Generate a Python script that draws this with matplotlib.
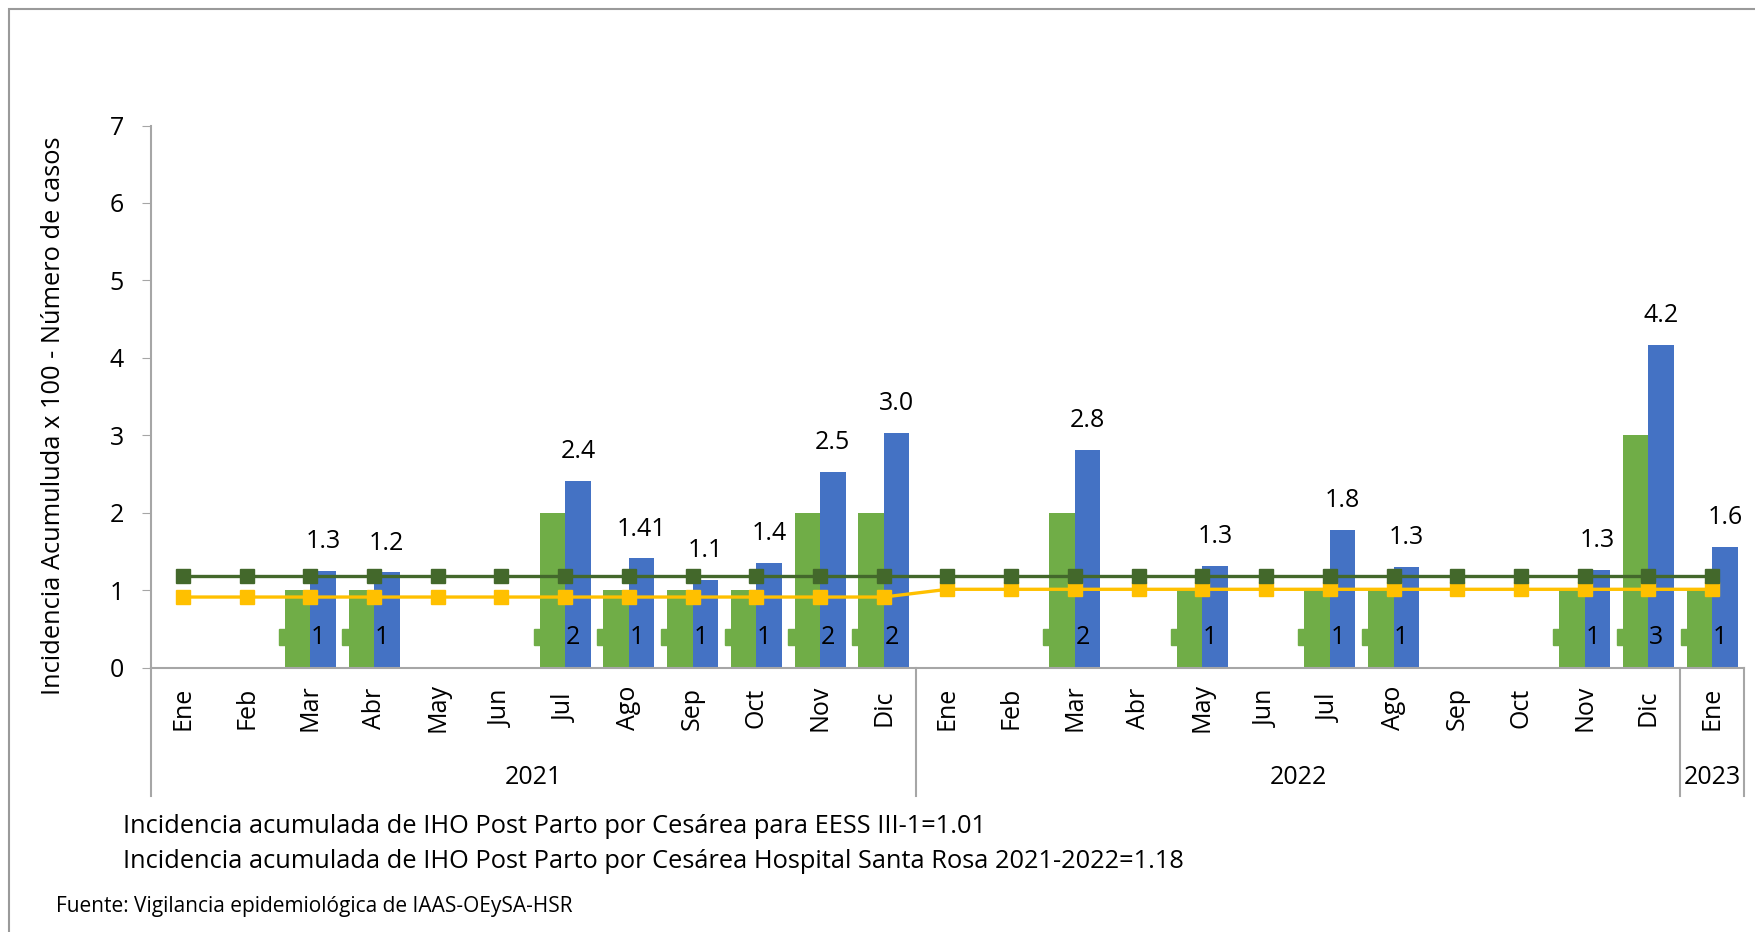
import numpy as np
import matplotlib
matplotlib.use("Agg")
import matplotlib.pyplot as plt
from matplotlib.patches import Rectangle
from matplotlib.transforms import blended_transform_factory

plt.rcParams['font.family'] = ['Open Sans', 'DejaVu Sans']

# data
months = ['Ene', 'Feb', 'Mar', 'Abr', 'May', 'Jun', 'Jul', 'Ago', 'Sep', 'Oct', 'Nov', 'Dic',
          'Ene', 'Feb', 'Mar', 'Abr', 'May', 'Jun', 'Jul', 'Ago', 'Sep', 'Oct', 'Nov', 'Dic',
          'Ene']
years = ['2021', '2022', '2023']
year_len = [12, 12, 1]
casos = [0, 0, 1, 1, 0, 0, 2, 1, 1, 1, 2, 2,
         0, 0, 2, 0, 1, 0, 1, 1, 0, 0, 1, 3,
         1]
incidencia = [0, 0, 1.25, 1.23, 0, 0, 2.41, 1.41, 1.13, 1.35, 2.53, 3.03,
              0, 0, 2.81, 0, 1.31, 0, 1.78, 1.30, 0, 0, 1.26, 4.17,
              1.56]
inc_labels = ['', '', '1.3', '1.2', '', '', '2.4', '1.41', '1.1', '1.4', '2.5', '3.0',
              '', '', '2.8', '', '1.3', '', '1.8', '1.3', '', '', '1.3', '4.2',
              '1.6']
eess = [0.91] * 12 + [1.01] * 13
hsr = [1.18] * 25

c_green = '#70AD47'
c_blue = '#4472C4'
c_yellow = '#FFC000'
c_dkgreen = '#43682B'
c_axis = '#A6A6A6'

fig = plt.figure(figsize=(17.56, 9.32), dpi=100)
ax = fig.add_axes([151 / 1756, 1 - 667.5 / 932, 1593 / 1756, 542 / 932])

x = np.arange(len(months))
w = 0.4
g = [c if c > 0 else np.nan for c in casos]
b = [v if v > 0 else np.nan for v in incidencia]
ax.bar(x - w / 2, g, w, color=c_green, zorder=2)
ax.bar(x + w / 2, b, w, color=c_blue, zorder=2)

ax.plot(x, eess, color=c_yellow, lw=2.4, marker='s', ms=10, zorder=4)
ax.plot(x, hsr, color=c_dkgreen, lw=2.4, marker='s', ms=10, zorder=5)

for i in range(len(months)):
    if inc_labels[i]:
        ax.annotate(inc_labels[i], (x[i] + w / 2, incidencia[i]), xytext=(0, 21),
                    textcoords='offset points', ha='center', va='center', fontsize=18)
    if casos[i] > 0:
        ax.plot(x[i] - 0.37, 0.39, marker='s', ms=11, color=c_green, zorder=3)
        ax.text(x[i] + 0.01, 0.39, str(casos[i]), ha='left', va='center', fontsize=18, zorder=6)

ax.set_xlim(-0.5, len(months) - 0.5)
ax.set_ylim(0, 7)
ax.set_yticks(range(8))
ax.tick_params(axis='y', labelsize=18, length=6.5, color=c_axis, pad=13)
ax.set_xticks([])
for s in ['top', 'right']:
    ax.spines[s].set_visible(False)
ax.spines['left'].set_color(c_axis)
ax.spines['bottom'].set_color(c_axis)
ax.spines['left'].set_linewidth(1.5)
ax.spines['bottom'].set_linewidth(1.5)

# category axis with months and years
tr = blended_transform_factory(ax.transData, fig.transFigure)
y_month = 1 - 708 / 932
y_year = 1 - 777 / 932
y_sep = 1 - 796 / 932
for i, m in enumerate(months):
    ax.text(x[i], y_month, m, transform=tr, rotation=90, ha='center', va='center',
            fontsize=18, clip_on=False)
start = 0
bounds = [-0.5]
for yr, n in zip(years, year_len):
    ax.text(start + (n - 1) / 2, y_year, yr, transform=tr, ha='center', va='center',
            fontsize=18, clip_on=False)
    start += n
    bounds.append(start - 0.5)
for bx in bounds:
    ax.plot([bx, bx], [1 - 667.5 / 932, y_sep], transform=tr, color=c_axis, lw=1.5,
            clip_on=False)

ax.set_ylabel('Incidencia Acumuluda x 100 - Número de casos', fontsize=18.3)
ax.yaxis.set_label_coords(66 / 1756, 1 - 416 / 932, transform=fig.transFigure)

fig.text(123 / 1756, 1 - 826.5 / 932,
         'Incidencia acumulada de IHO Post Parto por Cesárea para EESS III-1=1.01',
         ha='left', va='center', fontsize=18.3)
fig.text(123 / 1756, 1 - 861 / 932,
         'Incidencia acumulada de IHO Post Parto por Cesárea Hospital Santa Rosa 2021-2022=1.18',
         ha='left', va='center', fontsize=18.3)
fig.text(56 / 1756, 1 - 906.5 / 932, 'Fuente: Vigilancia epidemiológica de IAAS-OEySA-HSR',
         ha='left', va='center', fontsize=15)

fig.patches.append(Rectangle((8.5 / 1756, -0.02), 1.1, 1 - 9.5 / 932 + 0.02,
                             transform=fig.transFigure, fill=False, edgecolor='#9A9A9A',
                             lw=1.5))

fig.savefig('out.png', dpi=100)
